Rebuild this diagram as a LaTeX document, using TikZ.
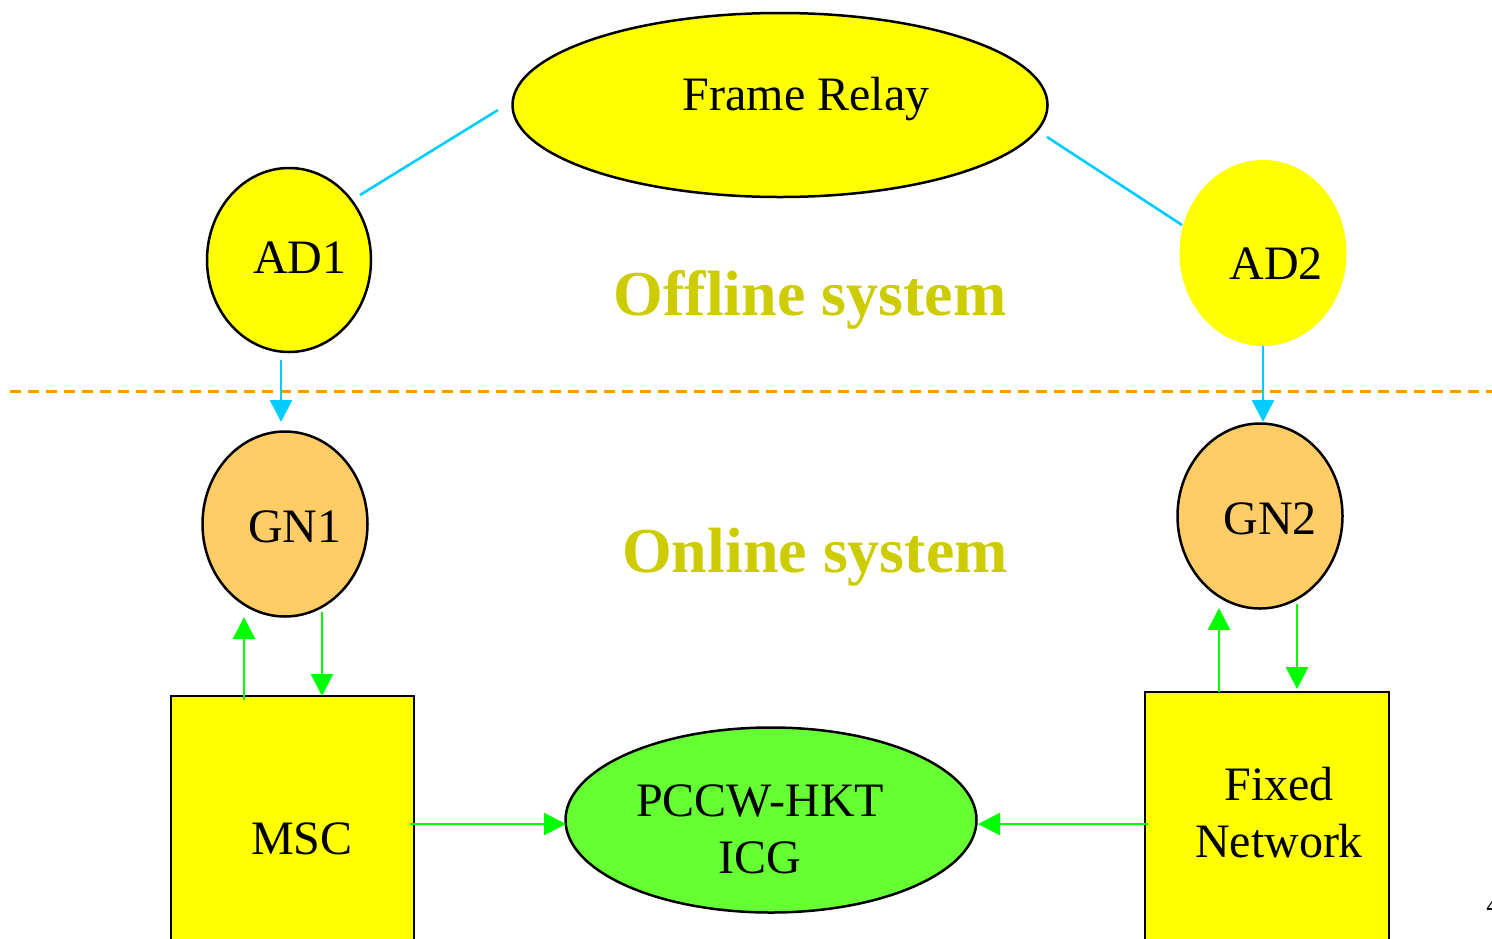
\documentclass[tikz,border=0pt]{standalone}
\usepackage{fontspec}
\setmainfont{Liberation Serif}
\usetikzlibrary{shapes.geometric,arrows.meta}
\definecolor{yel}{HTML}{FFFF00}
\definecolor{orng}{HTML}{FFCC66}
\definecolor{grnfill}{HTML}{66FF33}
\definecolor{grnline}{HTML}{00FF00}
\definecolor{cyanline}{HTML}{00CCFF}
\definecolor{olive}{HTML}{CCCC00}
\definecolor{dashorange}{HTML}{FF9900}
\tikzset{
  ell/.style={ellipse, inner sep=0pt, line width=1.25pt},
  lbl/.style={font=\fontsize{24}{28.5}\selectfont, align=center, inner sep=0pt},
  sys/.style={font=\fontsize{32}{36}\selectfont\bfseries, text=olive, inner sep=0pt},
  cyanconn/.style={draw=cyanline, line width=1.3pt},
  cyanarrow/.style={cyanconn, -{Triangle[length=11pt,width=11pt]}},
  grnarrow/.style={draw=grnline, line width=1.4pt, -{Triangle[length=11pt,width=11pt]}},
  boxstyle/.style={draw=black, fill=yel, line width=1.25pt},
}
\begin{document}
\begin{tikzpicture}[x=0.5pt,y=-0.5pt]
\useasboundingbox (0,0) rectangle (1492,938);
% ellipses
\node[ell, draw=black, fill=yel, minimum width=267.5pt, minimum height=92pt] (fr) at (780,105) {};
\node[ell, draw=black, fill=yel, minimum width=82pt, minimum height=92pt] (ad1) at (289,260) {};
\node[ell, fill=yel, minimum width=83.5pt, minimum height=93pt] (ad2) at (1263,253) {};
\node[ell, draw=black, fill=orng, minimum width=82.5pt, minimum height=92.5pt] (gn1) at (285,524) {};
\node[ell, draw=black, fill=orng, minimum width=82.5pt, minimum height=92.5pt] (gn2) at (1260,516) {};
\node[ell, draw=black, fill=grnfill, minimum width=205.5pt, minimum height=92.5pt] (icg) at (771,820) {};
% boxes
\path[boxstyle] (171,696) rectangle (414,960);
\node[inner sep=0pt, minimum width=121.5pt, minimum height=121pt] (msc) at (292.5,817) {};
\path[boxstyle] (1145,692) rectangle (1389,960);
\node[inner sep=0pt, minimum width=122pt, minimum height=123pt] (fixed) at (1267,815) {};
% labels
\node[lbl] (frl) at (806,99) {Frame Relay};
\node[lbl] (ad1l) at (300,258) {AD1};
\node[lbl] (ad2l) at (1276,264) {AD2};
\node[lbl] (gn1l) at (295,527) {GN1};
\node[lbl] (gn2l) at (1270,519) {GN2};
\node[lbl] (mscl) at (302,839) {MSC};
\node[lbl] (fixedl) at (1279,813) {Fixed\\Network};
\node[lbl] (icgl) at (760,829) {PCCW-HKT\\ICG};
\node[sys] (off) at (810,300) {Offline system};
\node[sys] (on) at (815,557) {Online system};
\node[font=\fontsize{14}{16}\selectfont, anchor=west, inner sep=0pt] (pg) at (1486,905) {4};
% dashed divider
\coordinate (dl) at (10,391);
\coordinate (dr) at (1492,391);
\draw[draw=dashorange, line width=1.5pt, dash pattern=on 5.5pt off 3.5pt] (dl) -- (dr);
% connector endpoints
\coordinate (c1a) at (360,195); \coordinate (c1b) at (498,110);
\coordinate (c2a) at (1047,137); \coordinate (c2b) at (1182,225);
\coordinate (a1s) at (281,360); \coordinate (a1e) at (281,422);
\coordinate (a2s) at (1263,346); \coordinate (a2e) at (1263,422);
\coordinate (g1us) at (244,700); \coordinate (g1ue) at (244,617);
\coordinate (g1ds) at (322,612); \coordinate (g1de) at (322,696);
\coordinate (g2us) at (1219,692); \coordinate (g2ue) at (1219,608);
\coordinate (g2ds) at (1297,604); \coordinate (g2de) at (1297,689);
\coordinate (ms) at (410,824); \coordinate (me) at (566,824);
\coordinate (fs) at (1148,824); \coordinate (fe) at (978,824);
% connectors
\draw[cyanconn] (c1a) -- (c1b);
\draw[cyanconn] (c2a) -- (c2b);
\draw[cyanarrow] (a1s) -- (a1e);
\draw[cyanarrow] (a2s) -- (a2e);
\draw[grnarrow] (g1us) -- (g1ue);
\draw[grnarrow] (g1ds) -- (g1de);
\draw[grnarrow] (g2us) -- (g2ue);
\draw[grnarrow] (g2ds) -- (g2de);
\draw[grnarrow] (ms) -- (me);
\draw[grnarrow] (fs) -- (fe);
\end{tikzpicture}
\end{document}
